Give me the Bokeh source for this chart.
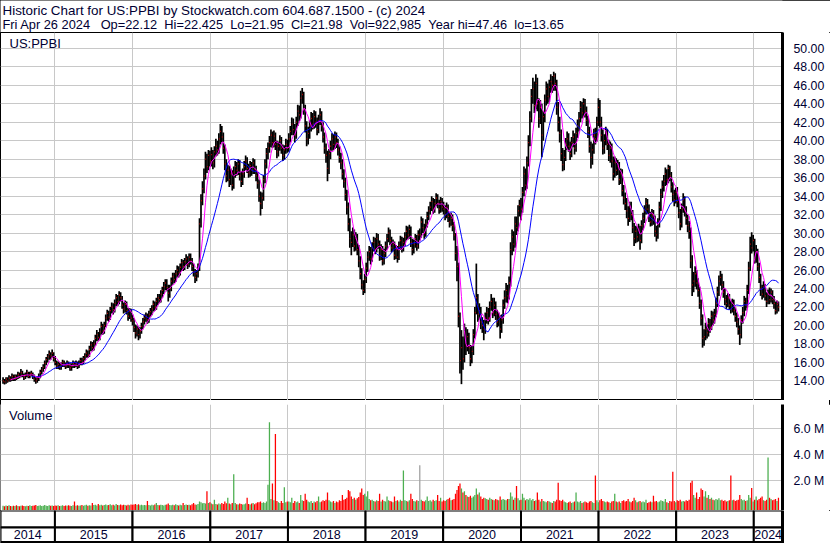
import numpy as np
import pandas as pd
from bokeh.plotting import figure
from bokeh.layouts import column
from bokeh.models import Range1d, FixedTicker, PrintfTickFormatter, Label, ColumnDataSource
from bokeh.embed import file_html
from bokeh.resources import INLINE
from bokeh.core.properties import value

try:
    from bokeh.models import GlobalInlineStyleSheet
    PAGE_CSS = [GlobalInlineStyleSheet(css=(
        "html,body{margin:0;padding:0;overflow:hidden;}"
        "body{outline:1px solid #000;outline-offset:-1px;}"))]
except Exception:
    PAGE_CSS = []

# ---------------- data (weekly bars, week ending Friday) ----------------
LAST_WEEK = "2024-04-26"
SYMBOL = "US:PPBI"
HEADER_1 = "Historic Chart for US:PPBI by Stockwatch.com 604.687.1500 - (c) 2024"
HEADER_2 = ["Fri Apr 26 2024", "Op=22.12", "Hi=22.425", "Lo=21.95", "Cl=21.98",
            "Vol=922,985", "Year hi=47.46", "lo=13.65"]
YEARS = list(range(2014, 2025))
PRICE_TICKS = list(range(14, 51, 2))
VOL_TICKS = [2, 4, 6]

close = [
    14.0, 13.9, 14.2, 14.0, 14.3, 14.2, 14.5, 14.2, 14.5, 14.3, 14.7, 14.5, 14.9, 14.6, 14.4, 14.6, 14.9, 14.5, 14.7, 14.8, 14.5, 14.2, 14.0, 14.2, 14.5, 14.9, 15.2, 15.5, 15.9, 16.3, 16.6, 16.9, 16.7, 17.0, 16.4,
    16.0, 15.6, 15.8, 15.5, 15.7, 16.0, 15.8, 15.6, 15.9, 15.7, 15.4, 15.6, 15.9, 15.7, 15.9, 15.6, 15.9, 16.2, 16.0, 16.4, 16.7, 17.0, 16.8, 17.4, 17.9, 17.6, 18.0, 18.6, 19.0, 18.7, 19.3, 19.9, 19.4, 20.0, 20.8, 21.3, 20.9, 21.6, 22.0, 21.7, 22.4, 23.0, 22.6, 23.3, 23.0, 22.2, 21.8, 22.3, 21.6, 21.0, 21.5, 20.8,
    20.5, 19.8, 19.2, 19.6, 19.0, 19.4, 19.9, 20.4, 20.8, 21.0, 20.6, 21.2, 21.5, 21.8, 22.3, 22.0, 22.6, 23.0, 22.8, 23.4, 23.8, 24.2, 24.6, 24.1, 23.5, 24.0, 24.8, 25.3, 25.0, 25.6, 26.0, 25.7, 26.3, 26.8, 26.4, 26.9, 27.2, 26.6, 27.4, 27.0, 26.4, 25.8, 25.2, 25.6, 26.2, 31.0, 33.5, 34.8, 36.2, 38.0, 37.2, 38.4, 37.8,
    38.5, 37.6, 38.8, 39.4, 39.0, 40.2, 41.0, 40.4, 39.2, 37.5, 36.2, 36.8, 35.8, 36.4, 35.2, 36.6, 37.2, 36.8, 37.5, 36.2, 35.6, 36.4, 37.2, 37.8, 37.0, 36.5, 37.3, 36.8, 37.6, 36.9, 36.2, 35.4, 34.0, 33.2, 33.8, 35.8, 37.5, 38.6, 39.2, 39.8, 40.6, 39.8, 40.5, 39.6, 38.8, 39.4, 40.0, 39.2, 38.4, 39.0, 39.6, 39.2,
    40.2, 41.0, 41.8, 41.2, 40.6, 42.0, 43.2, 42.8, 44.6, 45.0, 43.4, 41.6, 40.2, 40.8, 41.6, 42.4, 41.8, 42.6, 42.0, 41.2, 42.2, 42.8, 41.6, 40.4, 39.2, 38.4, 37.0, 38.6, 39.4, 40.2, 39.6, 40.4, 39.8, 39.0, 38.2, 37.6, 36.4, 35.6, 34.2, 32.8, 31.0, 29.4, 29.0, 29.8, 28.6, 29.4, 28.2, 27.0, 25.6, 24.4, 23.8, 25.0,
    26.2, 27.4, 28.0, 27.2, 28.4, 29.0, 28.2, 29.4, 28.8, 27.6, 28.2, 27.0, 27.8, 28.6, 29.4, 30.0, 29.2, 28.4, 28.8, 27.6, 28.2, 27.4, 28.6, 29.2, 28.4, 29.0, 29.6, 30.2, 29.8, 30.4, 29.0, 28.2, 28.8, 29.4, 28.6, 29.8, 29.8, 31.2, 30.6, 30.0, 31.0, 31.8, 32.4, 32.8, 33.4, 32.6, 33.2, 33.8, 33.2, 32.6, 33.4, 32.8,
    32.6, 32.0, 32.8, 31.8, 31.2, 31.6, 30.8, 29.8, 27.8, 26.4, 21.0, 16.2, 17.6, 16.4, 19.2, 17.8, 18.8, 17.6, 16.4, 17.2, 19.0, 21.4, 23.0, 21.2, 21.6, 20.4, 20.0, 19.6, 20.8, 21.4, 20.8, 22.0, 22.6, 21.4, 22.2, 21.2, 20.4, 20.8, 19.6, 20.6, 22.2, 23.0, 23.8, 23.2, 24.6, 28.2, 29.6, 28.8, 31.0, 30.6, 32.4, 33.0,
    32.6, 34.4, 36.4, 35.2, 37.6, 39.8, 42.4, 44.8, 45.6, 43.8, 46.2, 44.0, 42.4, 43.6, 40.6, 42.6, 44.4, 45.6, 44.8, 45.8, 46.4, 46.0, 47.0, 46.2, 43.6, 42.0, 40.8, 38.6, 37.4, 38.2, 39.6, 40.2, 39.4, 38.6, 39.8, 40.4, 39.2, 40.8, 41.6, 42.4, 43.6, 43.0, 44.0, 43.2, 42.2, 41.0, 39.4, 38.2, 39.0, 40.6, 40.2, 42.0, 43.6,
    42.0, 40.6, 39.2, 40.0, 40.8, 39.6, 38.4, 39.2, 37.8, 36.4, 37.6, 36.8, 37.2, 35.8, 36.4, 34.6, 33.8, 33.2, 32.4, 31.6, 32.8, 32.0, 30.6, 29.4, 30.2, 29.6, 30.4, 29.2, 30.8, 31.6, 32.4, 33.2, 32.6, 31.8, 31.2, 32.0, 31.4, 30.2, 29.8, 31.0, 32.8, 34.2, 35.0, 35.6, 36.4, 35.8, 37.0, 36.2, 35.0, 34.2, 33.6, 34.4,
    33.4, 32.2, 31.0, 32.6, 33.6, 32.4, 31.6, 30.8, 30.2, 27.0, 24.4, 24.8, 25.6, 24.6, 23.8, 22.4, 20.8, 18.6, 18.8, 19.6, 19.2, 20.2, 19.8, 21.0, 20.6, 21.2, 22.4, 23.6, 24.8, 25.2, 24.4, 23.6, 22.8, 22.4, 23.0, 22.2, 21.8, 22.4, 21.6, 21.0, 20.4, 19.6, 19.0, 20.6, 21.4, 22.6, 22.2, 23.8, 26.2, 28.8, 28.4, 29.2,
    27.2, 28.0, 26.4, 25.2, 24.0, 23.4, 24.2, 23.2, 22.6, 23.4, 22.8, 23.6, 22.8, 22.4, 21.6, 22.3, 21.98,
]

high = [
    14.4, 14.2, 14.4, 14.4, 14.6, 14.5, 14.8, 14.7, 14.7, 14.7, 15.0, 14.9, 15.3, 15.1, 14.8, 14.9, 15.2, 15.0, 15.0, 15.1, 14.9, 14.7, 14.4, 14.5, 14.8, 15.2, 15.5, 15.8, 16.2, 16.6, 16.9, 17.3, 17.1, 17.4, 17.1,
    16.7, 16.2, 16.1, 16.0, 16.0, 16.3, 16.2, 16.0, 16.2, 16.1, 15.9, 15.9, 16.2, 16.1, 16.2, 16.1, 16.2, 16.5, 16.5, 16.7, 17.0, 17.4, 17.3, 17.8, 18.3, 18.2, 18.4, 19.0, 19.5, 19.3, 19.7, 20.4, 20.2, 20.4, 21.2, 21.7, 21.6, 22.0, 22.5, 22.4, 22.8, 23.4, 23.3, 23.7, 23.6, 23.2, 22.5, 22.7, 22.6, 21.9, 21.9, 21.8,
    21.2, 20.8, 20.1, 20.0, 19.9, 19.8, 20.3, 20.8, 21.2, 21.4, 21.3, 21.6, 21.9, 22.2, 22.7, 22.6, 23.0, 23.4, 23.4, 23.8, 24.2, 24.7, 25.0, 25.0, 24.4, 24.4, 25.2, 25.7, 25.7, 26.0, 26.5, 26.4, 26.7, 27.2, 27.1, 27.3, 27.7, 27.5, 27.8, 27.8, 27.3, 26.7, 26.1, 26.0, 26.7, 31.6, 34.2, 35.6, 37.0, 38.8, 38.6, 39.0, 38.9,
    39.3, 39.0, 39.4, 40.2, 40.0, 40.8, 41.8, 41.6, 40.9, 39.6, 38.0, 37.4, 37.3, 37.0, 36.8, 37.2, 37.8, 37.7, 38.0, 37.9, 36.7, 37.0, 37.8, 38.4, 38.2, 37.5, 37.8, 37.7, 38.1, 38.0, 37.3, 36.6, 35.8, 34.5, 34.4, 36.3, 38.0, 39.2, 39.8, 40.5, 41.2, 41.0, 41.1, 40.9, 40.0, 39.9, 40.6, 40.4, 39.6, 39.5, 40.2, 40.1,
    40.8, 41.6, 42.5, 42.4, 41.8, 42.6, 43.9, 43.8, 45.4, 45.7, 45.3, 43.9, 42.1, 41.5, 42.2, 43.1, 43.0, 43.3, 43.2, 42.5, 42.8, 43.5, 43.2, 42.0, 40.9, 39.7, 38.9, 39.1, 40.0, 40.8, 40.7, 41.0, 40.9, 40.2, 39.4, 38.7, 38.0, 36.9, 36.0, 34.7, 33.3, 31.6, 30.2, 30.6, 30.4, 30.1, 29.9, 28.7, 27.5, 26.2, 24.9, 25.6,
    26.8, 28.0, 28.6, 28.5, 29.0, 29.6, 29.5, 30.0, 29.9, 29.2, 28.8, 28.6, 28.3, 29.1, 29.9, 30.6, 30.4, 29.6, 29.3, 29.1, 28.7, 28.6, 29.1, 29.7, 29.6, 29.5, 30.1, 30.8, 30.7, 30.9, 30.7, 29.4, 29.3, 29.9, 29.8, 30.3, 30.5, 31.8, 31.6, 31.0, 31.5, 32.3, 32.9, 33.4, 34.0, 33.8, 33.7, 34.3, 34.2, 33.6, 33.9, 33.8,
    33.4, 33.0, 33.3, 33.1, 32.2, 32.2, 32.0, 31.2, 30.0, 28.6, 26.8, 21.4, 19.5, 18.8, 20.2, 19.8, 19.6, 19.2, 17.9, 17.8, 19.6, 22.0, 26.7, 23.4, 22.4, 22.0, 20.9, 20.6, 21.4, 22.0, 21.9, 22.6, 23.4, 23.0, 23.0, 22.6, 21.7, 21.4, 21.1, 21.2, 22.8, 23.8, 24.6, 24.4, 25.3, 29.0, 30.4, 30.2, 31.8, 31.8, 33.0, 33.6,
    33.8, 35.0, 37.2, 37.0, 38.3, 40.6, 43.2, 45.6, 46.8, 46.4, 47.2, 46.8, 44.6, 44.4, 44.0, 43.2, 45.0, 46.4, 46.2, 46.6, 47.2, 47.0, 47.46, 47.3, 46.6, 44.2, 42.6, 41.2, 39.2, 39.0, 40.3, 41.0, 40.8, 39.9, 40.4, 41.1, 40.8, 41.4, 42.3, 43.1, 44.3, 44.2, 44.6, 44.5, 43.7, 42.7, 41.5, 39.9, 39.7, 41.3, 41.4, 42.6, 44.6,
    44.4, 42.6, 41.2, 40.7, 41.5, 41.3, 40.1, 39.9, 39.7, 38.3, 38.3, 38.1, 37.9, 37.7, 37.0, 36.9, 35.2, 34.4, 33.8, 32.9, 33.4, 33.4, 32.5, 31.1, 30.8, 30.7, 31.0, 30.8, 31.4, 32.2, 33.0, 33.8, 33.7, 33.1, 32.3, 32.6, 32.5, 31.9, 30.8, 31.6, 33.4, 34.8, 35.7, 36.3, 37.1, 36.9, 37.4, 37.3, 36.6, 35.5, 34.7, 34.9,
    35.0, 33.9, 32.6, 33.2, 34.3, 34.0, 32.9, 32.0, 31.3, 30.6, 27.6, 25.8, 26.4, 26.0, 25.1, 24.2, 22.8, 21.2, 19.6, 20.3, 20.1, 20.8, 20.7, 21.6, 21.5, 21.8, 23.0, 24.2, 25.4, 25.9, 25.6, 24.8, 24.0, 23.3, 23.5, 23.4, 22.7, 22.9, 22.8, 22.0, 21.4, 20.8, 20.0, 21.1, 22.0, 23.2, 23.0, 24.4, 26.9, 29.6, 30.1, 29.8,
    29.4, 28.7, 28.3, 26.8, 25.6, 24.4, 24.8, 24.5, 23.6, 23.9, 24.1, 24.0, 23.8, 23.2, 22.6, 22.7, 22.6,
]

low = [
    13.7, 13.6, 13.7, 13.8, 13.9, 13.9, 14.0, 14.0, 14.0, 14.1, 14.2, 14.3, 14.4, 14.4, 14.1, 14.2, 14.4, 14.3, 14.3, 14.5, 14.2, 13.9, 13.7, 13.8, 14.0, 14.3, 14.7, 15.0, 15.3, 15.7, 16.0, 16.3, 16.3, 16.5, 16.1,
    15.7, 15.3, 15.3, 15.2, 15.2, 15.5, 15.5, 15.3, 15.4, 15.4, 15.1, 15.1, 15.4, 15.4, 15.5, 15.3, 15.4, 15.7, 15.7, 15.8, 16.2, 16.5, 16.5, 16.6, 17.2, 17.2, 17.3, 17.8, 18.3, 18.3, 18.4, 19.0, 19.0, 19.1, 19.8, 20.5, 20.4, 20.6, 21.3, 21.2, 21.4, 22.1, 22.1, 22.3, 22.6, 21.8, 21.3, 21.4, 21.2, 20.5, 20.7, 20.4,
    20.0, 19.3, 18.6, 18.8, 18.4, 18.6, 19.1, 19.6, 20.1, 20.4, 20.2, 20.3, 20.9, 21.1, 21.5, 21.6, 21.7, 22.2, 22.4, 22.5, 23.0, 23.4, 23.8, 23.7, 22.6, 23.0, 23.7, 24.4, 24.6, 24.7, 25.2, 25.2, 25.4, 25.9, 25.9, 26.0, 26.5, 26.1, 26.3, 26.6, 25.9, 25.3, 24.6, 24.8, 25.2, 25.9, 30.6, 33.0, 34.3, 35.8, 36.5, 36.8, 37.2,
    37.2, 36.9, 37.1, 38.3, 38.4, 38.6, 39.6, 39.8, 38.6, 36.8, 35.5, 35.6, 35.0, 35.2, 34.6, 34.8, 36.0, 36.2, 36.3, 35.7, 35.0, 35.2, 36.0, 36.8, 36.5, 36.0, 36.1, 36.2, 36.4, 36.4, 35.6, 34.8, 33.4, 31.9, 32.6, 33.5, 35.4, 37.0, 38.0, 38.7, 39.3, 39.2, 39.3, 39.0, 38.1, 38.3, 38.9, 38.6, 37.8, 37.9, 38.6, 38.7,
    38.8, 39.8, 40.6, 40.6, 39.8, 40.2, 41.6, 42.1, 42.4, 44.0, 42.8, 40.9, 39.4, 39.6, 40.2, 41.0, 41.2, 41.3, 41.4, 40.6, 40.8, 41.7, 41.0, 39.8, 38.6, 37.6, 35.6, 36.4, 38.0, 38.9, 39.0, 39.1, 39.2, 38.4, 37.6, 36.9, 35.8, 34.9, 33.5, 32.0, 30.2, 28.4, 27.6, 28.5, 28.0, 28.1, 27.6, 26.3, 25.0, 23.9, 23.3, 23.5,
    24.6, 25.8, 27.0, 26.6, 26.9, 28.0, 27.7, 27.9, 28.3, 27.0, 27.1, 26.5, 26.6, 27.4, 28.2, 29.0, 28.7, 27.9, 28.0, 27.1, 27.2, 26.8, 27.1, 28.2, 27.9, 28.0, 28.6, 29.2, 29.3, 29.4, 28.5, 27.6, 27.8, 28.4, 28.1, 28.3, 29.2, 29.5, 30.0, 29.4, 29.6, 30.6, 31.4, 32.0, 32.4, 32.1, 32.2, 32.9, 32.7, 32.1, 32.2, 32.3,
    32.0, 31.4, 31.6, 31.2, 30.6, 30.8, 30.2, 29.2, 27.0, 24.8, 19.8, 14.8, 13.65, 15.2, 16.0, 16.8, 17.2, 16.9, 15.6, 15.9, 16.8, 18.6, 21.2, 20.4, 20.6, 19.6, 19.2, 18.4, 19.1, 20.2, 20.1, 20.4, 21.6, 20.8, 21.0, 20.6, 19.8, 19.9, 18.6, 19.2, 20.2, 21.8, 22.5, 22.4, 22.8, 24.2, 27.6, 28.0, 28.4, 29.8, 30.2, 31.8,
    31.4, 32.2, 34.0, 34.6, 34.8, 37.2, 39.4, 42.0, 44.0, 43.0, 43.4, 43.2, 41.4, 41.8, 38.2, 40.0, 42.0, 43.8, 44.0, 44.2, 45.2, 45.2, 45.4, 45.4, 42.8, 41.0, 39.8, 37.8, 36.7, 36.8, 37.8, 39.0, 38.8, 37.9, 38.2, 39.3, 38.5, 38.8, 40.3, 41.0, 42.0, 42.4, 42.6, 42.5, 41.6, 40.3, 38.7, 37.0, 37.4, 38.6, 39.6, 39.9, 41.6,
    41.4, 39.9, 38.5, 38.6, 39.5, 39.0, 37.8, 37.6, 37.1, 35.7, 36.0, 36.2, 36.3, 35.2, 35.3, 34.0, 33.1, 32.5, 31.6, 30.8, 31.2, 31.4, 30.0, 28.6, 28.9, 29.0, 29.1, 28.2, 28.9, 30.3, 31.1, 32.0, 32.1, 31.2, 30.7, 30.8, 30.9, 29.6, 29.1, 29.4, 30.6, 32.4, 33.8, 34.5, 35.1, 35.2, 35.4, 35.6, 34.4, 33.4, 32.9, 33.2,
    32.8, 31.6, 30.3, 30.6, 32.2, 31.8, 30.9, 30.1, 29.4, 26.2, 23.2, 23.6, 24.2, 23.9, 23.1, 21.8, 20.0, 17.6, 17.8, 18.4, 18.6, 18.8, 19.2, 19.5, 20.0, 20.2, 20.9, 22.0, 23.2, 24.3, 23.8, 23.0, 22.2, 21.8, 22.0, 21.7, 21.3, 21.4, 21.1, 20.4, 19.8, 19.0, 17.9, 18.6, 20.2, 21.0, 21.6, 21.9, 23.4, 25.9, 27.8, 28.0,
    26.7, 26.8, 25.9, 24.6, 23.2, 22.8, 23.0, 22.7, 22.0, 22.3, 22.3, 22.5, 22.3, 21.8, 21.2, 21.3, 21.5,
]

volume_m = [
    0.08, 0.05, 0.10, 0.06, 0.12, 0.07, 0.05, 0.09, 0.06, 0.11, 0.07, 0.05, 0.08, 0.10, 0.06, 0.05, 0.09, 0.07, 0.12, 0.06, 0.08, 0.10, 0.14, 0.07, 0.09, 0.11, 0.06, 0.08, 0.13, 0.09, 0.07, 0.12, 0.08, 0.10, 0.06,
    0.10, 0.08, 0.12, 0.07, 0.09, 0.11, 0.06, 0.10, 0.08, 0.12, 0.09, 0.07, 0.11, 0.40, 0.09, 0.12, 0.08, 0.10, 0.14, 0.09, 0.11, 0.15, 0.08, 0.12, 0.10, 0.30, 0.13, 0.16, 0.10, 0.22, 0.12, 0.15, 0.10, 0.13, 0.18, 0.11, 0.14, 0.20, 0.12, 0.16, 0.10, 0.22, 0.14, 0.12, 0.17, 0.11, 0.15, 0.13, 0.10, 0.16, 0.12, 0.18,
    0.15, 0.18, 0.22, 0.14, 0.20, 0.12, 0.16, 0.11, 0.14, 0.12, 0.45, 0.13, 0.10, 0.15, 0.12, 0.17, 0.30, 0.14, 0.11, 0.16, 0.13, 0.10, 0.15, 0.18, 0.25, 0.14, 0.12, 0.16, 0.11, 0.20, 0.13, 0.10, 0.15, 0.12, 0.30, 0.14, 0.18, 0.13, 0.16, 0.12, 0.20, 0.30, 0.18, 0.15, 0.22, 0.40, 0.35, 0.28, 0.30, 0.25, 1.20, 0.30, 0.35,
    0.25, 0.20, 0.55, 0.22, 0.18, 0.25, 0.20, 0.30, 0.22, 0.40, 0.28, 0.70, 0.25, 0.20, 0.30, 2.50, 0.30, 0.20, 0.18, 0.25, 0.22, 0.18, 0.20, 0.25, 0.70, 0.22, 0.18, 0.25, 0.30, 0.20, 0.28, 0.35, 0.35, 0.40, 0.30, 0.35, 0.30, 0.40, 1.70, 6.50, 0.60, 1.80, 0.50, 5.60, 0.45, 0.35, 0.30, 0.45, 0.30, 1.50, 0.35, 0.40,
    0.40, 0.35, 0.70, 0.30, 0.45, 0.35, 0.40, 0.30, 0.90, 0.50, 0.45, 1.00, 0.55, 0.40, 0.35, 0.45, 0.30, 0.40, 0.35, 0.45, 0.80, 0.35, 0.40, 0.50, 0.45, 0.55, 1.10, 0.50, 0.40, 0.35, 0.45, 0.30, 0.40, 0.35, 0.50, 0.45, 0.90, 0.55, 0.60, 0.70, 1.30, 1.20, 0.80, 0.60, 0.70, 0.55, 0.65, 0.75, 1.10, 1.40, 0.90, 1.00,
    0.80, 1.20, 0.60, 0.50, 0.55, 0.45, 0.40, 0.50, 0.45, 1.00, 0.40, 0.55, 0.45, 0.40, 0.80, 0.50, 0.45, 0.40, 0.35, 0.80, 0.45, 0.50, 0.40, 0.55, 0.45, 2.80, 0.50, 0.45, 0.40, 0.50, 1.00, 0.60, 0.45, 0.40, 0.50, 0.45, 3.20, 0.55, 0.45, 0.40, 0.50, 0.80, 0.45, 0.50, 0.40, 0.55, 0.45, 0.50, 0.90, 0.45, 0.70, 0.40,
    0.50, 0.45, 0.55, 0.60, 0.70, 0.50, 0.55, 0.60, 1.00, 1.30, 1.60, 1.80, 1.40, 1.10, 1.20, 0.90, 0.80, 0.75, 0.85, 0.70, 0.80, 0.90, 1.40, 0.95, 1.10, 0.80, 0.60, 0.70, 0.65, 0.60, 0.55, 0.70, 0.60, 0.55, 0.50, 0.60, 0.55, 0.50, 0.80, 0.55, 0.60, 0.55, 0.50, 0.60, 0.60, 1.10, 0.80, 0.55, 0.70, 1.60, 0.65, 0.50,
    0.55, 1.00, 0.70, 0.50, 0.60, 0.55, 0.65, 0.50, 0.60, 0.45, 0.50, 1.10, 0.55, 0.40, 0.60, 0.45, 0.40, 0.35, 0.45, 0.40, 0.35, 0.30, 0.45, 0.40, 0.55, 1.85, 0.50, 0.45, 0.55, 0.40, 0.35, 0.30, 0.35, 0.40, 0.30, 0.35, 0.40, 1.10, 0.40, 0.35, 0.45, 0.30, 0.35, 0.40, 0.35, 0.30, 0.40, 0.45, 0.35, 0.30, 2.40, 0.50, 0.35,
    0.50, 0.60, 0.45, 0.40, 0.35, 0.40, 0.35, 0.30, 0.40, 0.45, 1.00, 0.40, 0.35, 0.40, 0.30, 0.45, 0.50, 0.40, 0.45, 0.60, 0.40, 0.35, 0.45, 0.70, 0.50, 0.35, 0.40, 0.45, 0.35, 0.40, 0.35, 0.55, 0.30, 0.35, 0.40, 0.35, 0.85, 0.40, 0.45, 0.35, 0.40, 0.50, 0.45, 0.40, 0.60, 0.35, 0.30, 0.45, 0.40, 2.70, 0.45, 0.35,
    0.50, 0.45, 0.55, 0.40, 0.45, 0.40, 0.50, 0.45, 0.55, 1.85, 2.00, 0.90, 0.70, 1.10, 0.60, 0.75, 1.40, 1.30, 0.80, 1.20, 0.70, 0.90, 0.60, 0.70, 0.55, 0.50, 0.60, 0.55, 0.65, 0.50, 0.55, 0.45, 0.50, 0.40, 0.45, 0.50, 2.40, 0.50, 0.55, 0.45, 0.50, 0.55, 0.90, 0.60, 0.50, 0.55, 0.45, 0.50, 0.90, 0.70, 1.45, 0.40,
    0.55, 0.80, 0.50, 0.60, 0.70, 0.80, 0.50, 0.45, 0.55, 3.80, 0.70, 0.60, 0.50, 0.55, 0.60, 0.45, 0.70,
]

N = len(close)
assert len(high) == N and len(low) == N and len(volume_m) == N, (N, len(high), len(low), len(volume_m))

# ---------------- layout constants ----------------
W, H = 830, 543
HEADER_H, PRICE_H, SEP_H, GAP_H, VOL_H, YEAR_H = 32, 368, 1, 2, 106, 33
AXIS_W = 48
FRAME_W = W - AXIS_W
X0 = pd.Timestamp("2014-04-20")
X1 = pd.Timestamp("2024-05-15")
PRICE_RANGE = (11.88, 51.71)
VOL_RANGE = (-0.285, 7.87)

TXT = "#000033"
FONT = "Liberation Sans"
GRID = "#c8c8c8"
GREEN, RED, GRAY = "#4caf50", "#ff0000", "#a0a0a0"


def ms(ts):
    return (pd.Timestamp(ts) - pd.Timestamp("1970-01-01")).total_seconds() * 1000.0


XR = Range1d(start=ms(X0), end=ms(X1))
DAY = 86400000.0

dates = pd.date_range(end=LAST_WEEK, periods=N, freq="W-FRI")
cl = np.array(close, dtype=float)
ma_fast = pd.Series(cl).rolling(6).mean().to_numpy()
ma_slow = pd.Series(cl).rolling(20).mean().to_numpy()
diff = np.diff(np.concatenate([[cl[0]], cl]))
vcolor = np.where(diff > 0, GREEN, np.where(diff < 0, RED, GRAY))
vcolor[0] = GREEN

src = ColumnDataSource(dict(
    x=dates, xr=dates + pd.Timedelta(days=3), hi=high, lo=low, cl=cl,
    maf=ma_fast, mas=ma_slow, vol=volume_m, vc=vcolor,
))

year_ticks = [ms(f"{y}-01-01") for y in YEARS[1:]]


def base_fig(height, y_range, y_axis="right", outline="black"):
    return figure(width=W, height=height, x_range=XR, y_range=y_range,
                  x_axis_type="datetime", x_axis_location=None, y_axis_location=y_axis,
                  toolbar_location=None, output_backend="svg",
                  min_border_left=0, min_border_right=AXIS_W, min_border_top=0,
                  min_border_bottom=0, background_fill_color="white",
                  border_fill_color="white", outline_line_color=outline,
                  outline_line_width=1)


def rule_fig(height, colour):
    f = figure(width=W, height=height, x_range=XR, y_range=Range1d(0, 1),
               x_axis_location=None, y_axis_location=None, toolbar_location=None,
               output_backend="svg", min_border_left=0, min_border_right=AXIS_W,
               min_border_top=0, min_border_bottom=0, background_fill_color=colour,
               border_fill_color=colour, outline_line_color=None)
    f.grid.visible = False
    return f


def style_right_axis(f, ticks, fmt):
    ax = f.yaxis[0]
    ax.ticker = FixedTicker(ticks=ticks)
    ax.formatter = PrintfTickFormatter(format=fmt)
    ax.axis_line_width = 3
    ax.axis_line_color = "black"
    ax.major_tick_line_color = None
    ax.minor_tick_line_color = None
    ax.major_label_standoff = 5
    ax.major_label_text_font = FONT
    ax.major_label_text_font_size = "12.3px"
    ax.major_label_text_color = TXT


# ---------------- header (frame aligned with the panels below: 0..FRAME_W px) ----------------
hdr = figure(width=W, height=HEADER_H, x_range=Range1d(0, FRAME_W), y_range=Range1d(HEADER_H, 0),
             x_axis_location=None, y_axis_location=None, toolbar_location=None,
             output_backend="svg", min_border_left=0, min_border_right=AXIS_W,
             min_border_top=0, min_border_bottom=0, outline_line_color=None,
             background_fill_color="white", border_fill_color="white")
hdr.grid.visible = False
hdr.add_layout(Label(x=2, y=10.2, text=HEADER_1, text_font=FONT, text_font_size="13.4px",
                     text_color=TXT, text_baseline="alphabetic"))
NB = "\u00a0"
line2 = HEADER_2[0] + NB * 3 + (NB * 2).join(HEADER_2[1:])
hdr.add_layout(Label(x=2, y=24.4, text=line2, text_font=FONT, text_font_size="12.8px",
                     text_color=TXT, text_baseline="alphabetic"))

# ---------------- price panel ----------------
p = base_fig(PRICE_H, Range1d(*PRICE_RANGE))
style_right_axis(p, PRICE_TICKS, "%.2f")
p.ygrid.ticker = FixedTicker(ticks=PRICE_TICKS)
p.xgrid.ticker = FixedTicker(ticks=year_ticks)
p.grid.grid_line_color = GRID
p.grid.grid_line_width = 1

p.segment(x0="x", y0="lo", x1="x", y1="hi", source=src, line_color="black", line_width=1.7)
p.segment(x0="x", y0="cl", x1="xr", y1="cl", source=src, line_color=RED, line_width=1.3)
p.line("x", "mas", source=src, line_color="#0000ff", line_width=1)
p.line("x", "maf", source=src, line_color="#ff00ff", line_width=1)


def px_to_x(px):
    return ms(X0) + px / FRAME_W * (ms(X1) - ms(X0))


def px_to_price(py):
    return PRICE_RANGE[1] - py / PRICE_H * (PRICE_RANGE[1] - PRICE_RANGE[0])


p.add_layout(Label(x=px_to_x(9), y=px_to_price(10.7), text=SYMBOL, text_font=FONT,
                   text_font_size="13px", text_color=TXT, text_baseline="alphabetic"))

# ---------------- double rule between panels ----------------
sep_a = rule_fig(SEP_H, "black")
gap = rule_fig(GAP_H, "white")
sep_b = rule_fig(SEP_H, "black")

# ---------------- volume panel ----------------
pv = base_fig(VOL_H, Range1d(*VOL_RANGE), outline=None)
style_right_axis(pv, VOL_TICKS, "%.1f M")
pv.ygrid.ticker = FixedTicker(ticks=VOL_TICKS)
pv.xgrid.ticker = FixedTicker(ticks=year_ticks)
pv.grid.grid_line_color = GRID
pv.vbar(x="x", width=6 * DAY, top="vol", bottom=VOL_RANGE[0], source=src,
        fill_color="vc", line_color=None)
pv.add_layout(Label(x=px_to_x(8.5), y=VOL_RANGE[1] - 10.5 / VOL_H * (VOL_RANGE[1] - VOL_RANGE[0]),
                    text="Volume", text_font=FONT, text_font_size="13px", text_color=TXT,
                    text_baseline="alphabetic"))

# ---------------- year strip ----------------
py = base_fig(YEAR_H, Range1d(0, YEAR_H), outline=None)
py.grid.visible = False
py.yaxis[0].ticker = FixedTicker(ticks=[])
py.yaxis[0].axis_line_width = 3
py.yaxis[0].axis_line_color = "black"
py.yaxis[0].major_label_text_font_size = "0px"
py.yaxis[0].major_tick_line_color = None
py.yaxis[0].minor_tick_line_color = None

y_left, y_right, y_mid = [], [], []
for y in YEARS:
    l = max(ms(f"{y}-01-01"), ms(X0))
    r = min(ms(f"{y + 1}-01-01"), ms(X1))
    y_left.append(l)
    y_right.append(r)
    y_mid.append((l + r) / 2)
ysrc = ColumnDataSource(dict(left=y_left, right=y_right, mid=y_mid, label=[str(y) for y in YEARS]))
py.quad(left="left", right="right", bottom=16, top=YEAR_H, source=ysrc,
        fill_color="white", line_color="black", line_width=2)
py.quad(left="left", right="right", bottom=1.5, top=16, source=ysrc,
        fill_color="white", line_color="black", line_width=2)
py.text(x="mid", y=8.8, text="label", source=ysrc, text_align="center", text_baseline="middle",
        text_font=value(FONT), text_font_size="12.5px", text_color=TXT)

layout = column(hdr, p, sep_a, gap, sep_b, pv, py, spacing=0, stylesheets=PAGE_CSS)
open("out.html", "w").write(file_html(layout, INLINE))
